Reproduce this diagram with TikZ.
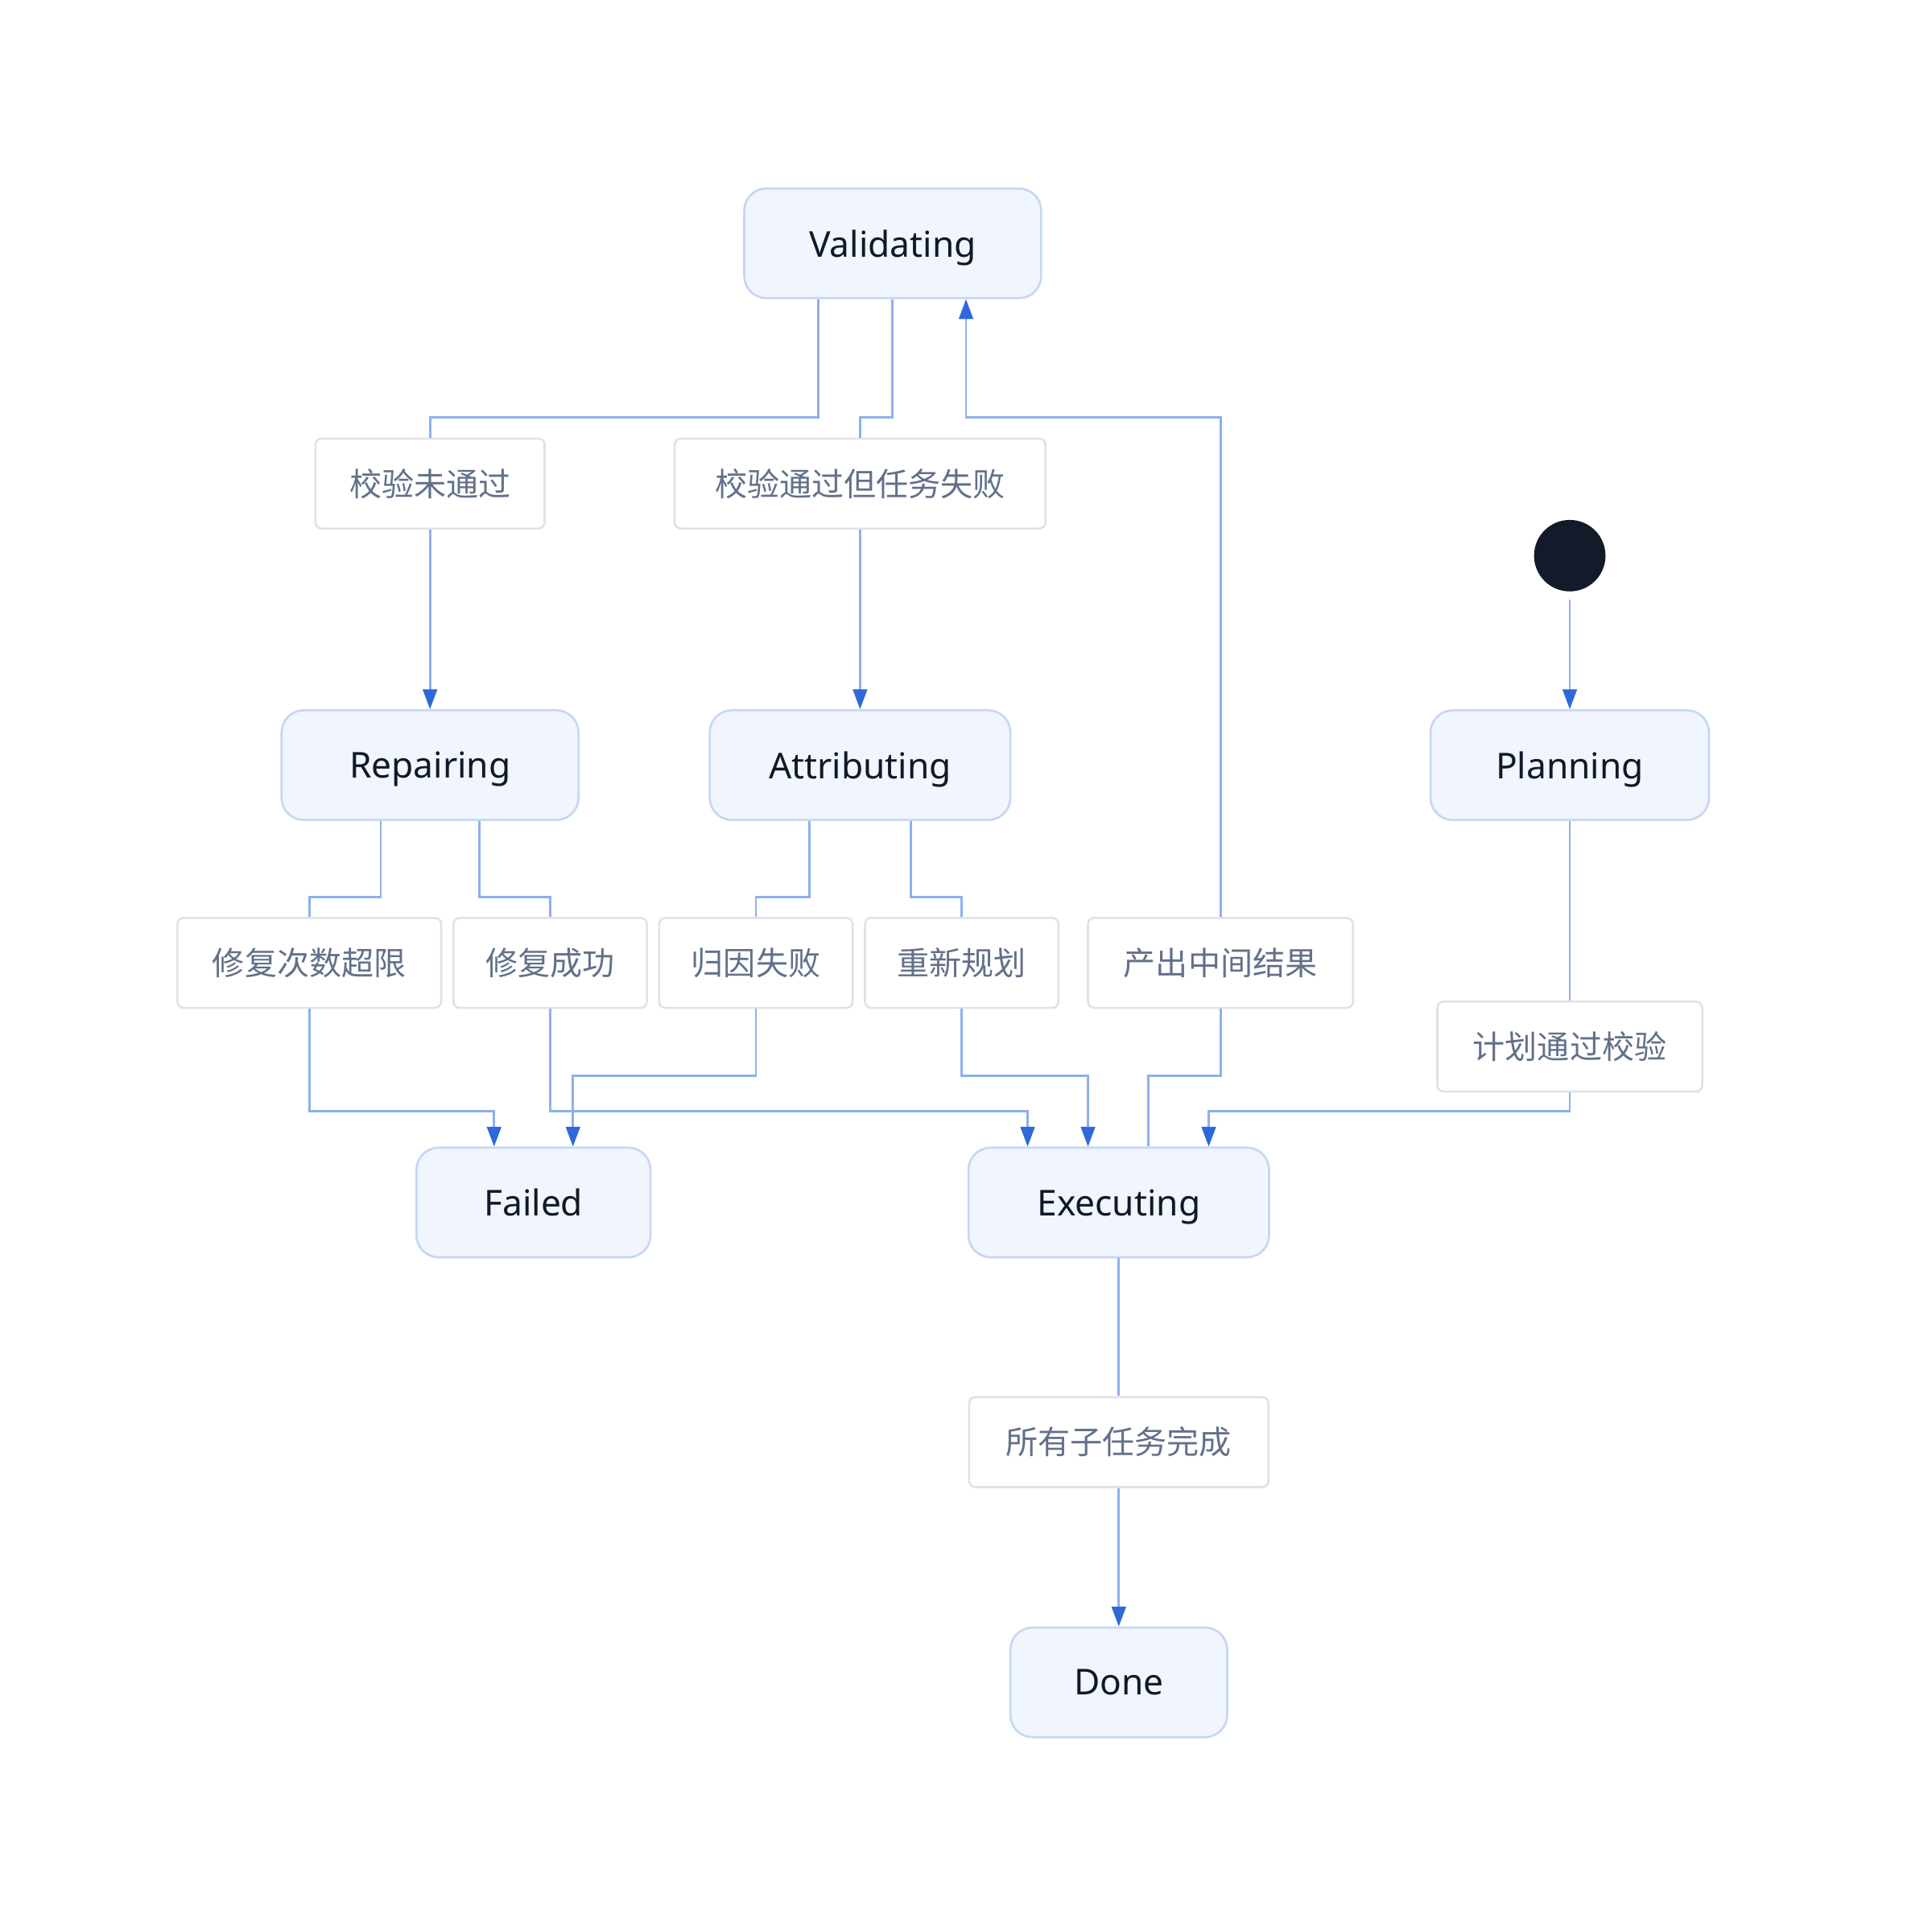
\documentclass[tikz,border=0pt]{standalone}
\usepackage{fontspec}
\setmainfont{Noto Sans}
\newfontfamily\cjk{Noto Sans CJK SC}
\usetikzlibrary{arrows.meta}
\newlength\du
\setlength\du{0.015306cm}
\definecolor{statefill}{HTML}{F0F5FE}
\definecolor{stateborder}{HTML}{C6D7F4}
\definecolor{labelborder}{HTML}{E2E2E2}
\definecolor{labeltext}{HTML}{62708A}
\definecolor{linecol}{HTML}{8DB0EE}
\definecolor{arrowcol}{HTML}{2F68D8}
\definecolor{statetext}{HTML}{111827}
\definecolor{initcol}{HTML}{131A2A}
\tikzset{
  statebox/.style={draw=stateborder, line width=0.75pt, fill=statefill, rounded corners=18\du,
    inner sep=0pt, minimum height=89\du, text=statetext, text depth=0pt, font=\fontsize{12.6}{14}\selectfont},
  labelbox/.style={draw=labelborder, line width=0.75pt, fill=white, rounded corners=5\du,
    inner sep=0pt, minimum height=73\du, text=labeltext, font=\cjk\fontsize{11.4}{13}\selectfont},
  conn/.style={draw=linecol, line width=0.8pt},
  arr/.style={conn, -{Triangle[length=7pt, width=5pt, fill=arrowcol, color=arrowcol]}},
}
\begin{document}
\begin{tikzpicture}[x=\du, y=-\du]
\useasboundingbox[fill=white] (0,0) rectangle (1568,1564);
% states
\node[statebox, minimum width=241\du] (val) at (724.5,197.5) {Validating};
\node[statebox, minimum width=241\du] (rep) at (349,621) {Repairing};
\node[statebox, minimum width=244\du] (att) at (698,621) {Attributing};
\node[statebox, minimum width=226\du] (plan) at (1274,621) {Planning};
\node[statebox, minimum width=190\du] (fail) at (433,976) {Failed};
\node[statebox, minimum width=244\du] (exe) at (908,976) {Executing};
\node[statebox, minimum width=176\du] (done) at (908,1365.5) {Done};
\node[circle, fill=initcol, inner sep=0pt, minimum size=58\du] (init) at (1274,451) {};
% labels
\node[labelbox, minimum width=186\du] (l1) at (349,392.5) {校验未通过};
\node[labelbox, minimum width=301\du] (l2) at (698,392.5) {校验通过但任务失败};
\node[labelbox, minimum width=214\du] (l3) at (251,781.5) {修复次数超限};
\node[labelbox, minimum width=157\du] (l4) at (446.5,781.5) {修复成功};
\node[labelbox, minimum width=157\du] (l6) at (613.5,781.5) {归因失败};
\node[labelbox, minimum width=157\du] (l7) at (780.5,781.5) {重新规划};
\node[labelbox, minimum width=215\du] (l5) at (990.5,781.5) {产出中间结果};
\node[labelbox, minimum width=215\du] (l8) at (1274,849.5) {计划通过校验};
\node[labelbox, minimum width=243\du] (l9) at (908,1170.5) {所有子任务完成};
% edges
\draw[conn] ([xshift=-60.5\du]val.south) -- (664,339) -| (l1.north);
\draw[arr] (l1.south) -- (rep.north);
\draw[conn] ([xshift=-0.5\du]val.south) -- (724,339) -| (l2.north);
\draw[arr] (l2.south) -- (att.north);
\draw[conn] ([xshift=24\du]exe.north) -- (932,873) -| (l5.south);
\draw[arr] (l5.north) -- (990.5,339) -| ([xshift=59.5\du]val.south);
\draw[conn] ([xshift=-40\du]rep.south) -- (309,728) -| (l3.north);
\draw[arr] (l3.south) -- (251,902) -| ([xshift=-32\du]fail.north);
\draw[conn] ([xshift=40\du]rep.south) -- (389,728) -| (l4.north);
\draw[arr] (l4.south) -- (446.5,902) -| ([xshift=-74\du]exe.north);
\draw[conn] ([xshift=-41\du]att.south) -- (657,728) -| (l6.north);
\draw[arr] (l6.south) -- (613.5,873) -| ([xshift=32\du]fail.north);
\draw[conn] ([xshift=41\du]att.south) -- (739,728) -| (l7.north);
\draw[arr] (l7.south) -- (780.5,873) -| ([xshift=-25\du]exe.north);
\draw[arr] ([yshift=-6\du]init.south) -- (plan.north);
\draw[conn] (plan.south) -- (l8.north);
\draw[arr] (l8.south) -- (1274,902) -| ([xshift=73\du]exe.north);
\draw[conn] (exe.south) -- (l9.north);
\draw[arr] (l9.south) -- (done.north);
\end{tikzpicture}
\end{document}
